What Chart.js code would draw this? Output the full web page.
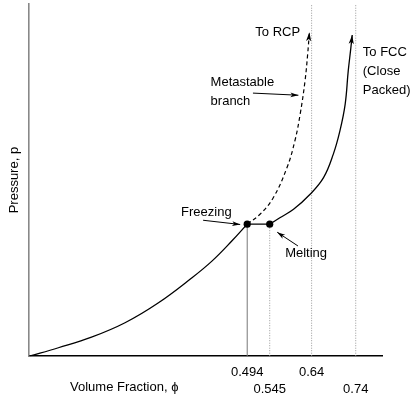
<!DOCTYPE html>
<html>
<head>
<meta charset="utf-8">
<script src="https://cdn.jsdelivr.net/npm/chart.js@4.4.1/dist/chart.umd.min.js"></script>
<style>
html,body{margin:0;padding:0;background:#fff;}
#wrap{width:410px;height:395px;position:relative;}
</style>
</head>
<body>
<div id="wrap"><canvas id="c" width="410" height="395"></canvas></div>
<script>
// ---- data (schematic equation of state of hard spheres) ----
const xTickValues = [0.494, 0.545, 0.64, 0.74];
const xTickLabels = ['0.494', '0.545', '0.64', '0.74'];
const fluidPhi = [0, 0.066, 0.141, 0.217, 0.292, 0.368, 0.414, 0.459, 0.494];
const fluidP   = [0, 0.24, 0.54, 0.95, 1.51, 2.22, 2.70, 3.27, 3.75];
const crystalPhi = [0.545, 0.568, 0.599, 0.636, 0.667, 0.689, 0.704, 0.716, 0.723, 0.729, 0.732];
const crystalP   = [3.75, 3.93, 4.17, 4.59, 5.07, 5.73, 6.39, 7.15, 8.10, 8.76, 9.12];
const glassPhi = [0.494, 0.523, 0.553, 0.584, 0.602, 0.614, 0.625, 0.631, 0.635];
const glassP   = [3.75, 4.03, 4.50, 5.35, 6.11, 6.87, 7.81, 8.57, 9.20];
const freezingPhi = 0.494, meltingPhi = 0.545, coexistP = 3.75;
const rcpPhi = 0.64, fccPhi = 0.74, pMax = 10;

const pts = (xs, ys) => xs.map((x, i) => ({x, y: ys[i]}));
const FONT = "'Liberation Sans', Arial, Helvetica, sans-serif";

// annotation texts/arrows (positions in data coordinates)
const notes = [
  {text: 'To RCP', x: 0.614, y: 9.18, align: 'right'},
  {text: 'To FCC', x: 0.756, y: 8.62, align: 'left'},
  {text: '(Close', x: 0.756, y: 8.08, align: 'left'},
  {text: 'Packed)', x: 0.756, y: 7.55, align: 'left'},
  {text: 'Metastable', x: 0.411, y: 7.76, align: 'left'},
  {text: 'branch', x: 0.411, y: 7.24, align: 'left'},
  {text: 'Freezing', x: 0.344, y: 4.09, align: 'left'},
  {text: 'Melting', x: 0.580, y: 2.92, align: 'left'}
];
const arrows = [
  {x0: 0.507, y0: 7.47, x1: 0.610, y1: 7.41},
  {x0: 0.394, y0: 3.86, x1: 0.478, y1: 3.74},
  {x0: 0.609, y0: 3.13, x1: 0.562, y1: 3.52}
];

function arrowHead(ctx, x0, y0, x1, y1, len, half) {
  const a = Math.atan2(y1 - y0, x1 - x0);
  ctx.save();
  ctx.translate(x1, y1);
  ctx.rotate(a);
  ctx.beginPath();
  ctx.moveTo(0, 0);
  ctx.lineTo(-len, -half);
  ctx.lineTo(-len * 0.75, 0);
  ctx.lineTo(-len, half);
  ctx.closePath();
  ctx.fillStyle = '#000';
  ctx.fill();
  ctx.restore();
}

const decor = {
  id: 'decor',
  afterDatasetsDraw(chart) {
    const ctx = chart.ctx;
    const xs = chart.scales.x, ys = chart.scales.y;
    const X = v => xs.getPixelForValue(v), Y = v => ys.getPixelForValue(v);
    ctx.save();
    // curve-end arrowheads
    const ends = [[crystalPhi, crystalP], [glassPhi, glassP]];
    ends.forEach(([px, py]) => {
      const n = px.length;
      arrowHead(ctx, X(px[n - 3]), Y(py[n - 3]), X(px[n - 1]), Y(py[n - 1]), 9, 2.6);
    });
    // annotation arrows
    ctx.strokeStyle = '#000';
    ctx.lineWidth = 1;
    arrows.forEach(a => {
      const x0 = X(a.x0), y0 = Y(a.y0), x1 = X(a.x1), y1 = Y(a.y1);
      ctx.beginPath();
      ctx.moveTo(x0, y0);
      ctx.lineTo(x1, y1);
      ctx.stroke();
      arrowHead(ctx, x0, y0, x1, y1, 8, 2.4);
    });
    // texts
    ctx.fillStyle = '#000';
    ctx.font = '13px ' + FONT;
    ctx.textBaseline = 'middle';
    notes.forEach(n => {
      ctx.textAlign = n.align;
      ctx.fillText(n.text, X(n.x), Y(n.y));
    });
    // x axis title
    ctx.textAlign = 'left';
    ctx.fillText('Volume Fraction, \u03D5', 70, 387);
    ctx.restore();
  }
};

const thin = {pointRadius: 0, borderWidth: 1, fill: false};
new Chart(document.getElementById('c'), {
  type: 'scatter',
  data: {
    datasets: [
      {data: [{x: freezingPhi, y: coexistP}, {x: meltingPhi, y: coexistP}], showLine: false,
       pointRadius: 3.6, pointBackgroundColor: '#000', pointBorderColor: '#000', pointBorderWidth: 0},
      {data: pts(fluidPhi, fluidP), showLine: true, borderColor: '#000', borderWidth: 1.3,
       pointRadius: 0, tension: 0.4},
      {data: pts(crystalPhi, crystalP), showLine: true, borderColor: '#000', borderWidth: 1.3,
       pointRadius: 0, tension: 0.4},
      {data: pts(glassPhi, glassP), showLine: true, borderColor: '#000', borderWidth: 1.2,
       borderDash: [4, 3], pointRadius: 0, tension: 0.4},
      {data: [{x: freezingPhi, y: coexistP}, {x: meltingPhi, y: coexistP}], showLine: true,
       borderColor: '#000', borderWidth: 1.3, pointRadius: 0},
      Object.assign({data: [{x: freezingPhi, y: 0}, {x: freezingPhi, y: coexistP}], showLine: true,
       borderColor: '#777'}, thin),
      Object.assign({data: [{x: meltingPhi, y: 0}, {x: meltingPhi, y: coexistP}], showLine: true,
       borderColor: '#999', borderDash: [1, 1.5]}, thin),
      Object.assign({data: [{x: rcpPhi, y: 0}, {x: rcpPhi, y: pMax}], showLine: true,
       borderColor: '#999', borderDash: [1, 1.5]}, thin),
      Object.assign({data: [{x: fccPhi, y: 0}, {x: fccPhi, y: pMax}], showLine: true,
       borderColor: '#999', borderDash: [1, 1.5]}, thin)
    ]
  },
  options: {
    responsive: false,
    animation: false,
    events: [],
    layout: {padding: {left: 0, right: 27.8, top: 3, bottom: -11}},
    plugins: {legend: {display: false}, tooltip: {enabled: false}},
    scales: {
      x: {
        type: 'linear', min: 0, max: 0.8,
        grid: {display: false, drawTicks: false},
        border: {display: true, color: '#000', width: 1.5},
        afterBuildTicks: s => { s.ticks = xTickValues.map(v => ({value: v})); },
        ticks: {
          autoSkip: false, maxRotation: 0, minRotation: 0, padding: 8, color: '#000',
          font: {family: FONT, size: 13, lineHeight: 1.3},
          callback: (v, i) => (i % 2 === 0 ? [xTickLabels[i], ''] : ['', xTickLabels[i]])
        }
      },
      y: {
        type: 'linear', min: 0, max: pMax,
        grid: {display: false, drawTicks: false},
        border: {display: true, color: '#888', width: 1.6},
        ticks: {display: false},
        title: {display: true, text: 'Pressure, p', color: '#000',
                font: {family: FONT, size: 13}, padding: {top: 6.2, bottom: 7.5}}
      }
    }
  },
  plugins: [decor]
});
</script>
</body>
</html>
